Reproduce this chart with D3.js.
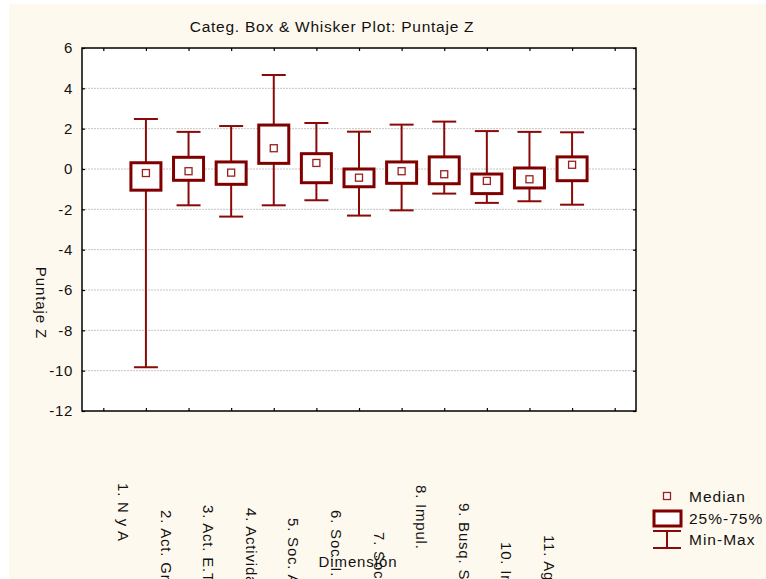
<!DOCTYPE html>
<html>
<head>
<meta charset="utf-8">
<script src="https://cdn.jsdelivr.net/npm/d3@7"></script>
<style>
  html, body { margin: 0; padding: 0; background: #ffffff; }
  svg { display: block; font-family: "Liberation Sans", Arial, sans-serif; }
</style>
</head>
<body>
<svg id="chart" width="766" height="579"></svg>
<script>
// Categories and five-number summaries per dimension
const categories = ["1. N y A", "2. Act. Gral.", "3. Act. E.T.", "4. Actividad", "5. Soc. A.",
  "6. Soc. I.", "7. Sociabilidad", "8. Impul.", "9. Busq. S.", "10. ImpBS", "11. Agres."];
const maxValues    = [2.48, 1.84, 2.13, 4.66, 2.28, 1.85, 2.20, 2.35, 1.88, 1.84, 1.82];
const q3Values     = [0.31, 0.58, 0.35, 2.18, 0.76, 0.00, 0.35, 0.60, -0.25, 0.05, 0.60];
const medianValues = [-0.20, -0.11, -0.18, 1.03, 0.30, -0.43, -0.11, -0.26, -0.59, -0.51, 0.21];
const q1Values     = [-1.05, -0.56, -0.76, 0.28, -0.68, -0.88, -0.71, -0.73, -1.22, -0.94, -0.58];
const minValues    = [-9.83, -1.80, -2.36, -1.80, -1.55, -2.31, -2.05, -1.22, -1.68, -1.60, -1.77];
const yTickValues  = [6, 4, 2, 0, -2, -4, -6, -8, -10, -12];
const legendLabels = ["Median", "25%-75%", "Min-Max"];
const titleText = "Categ. Box & Whisker Plot: Puntaje Z";
const yTitleText = "Puntaje Z";
const xTitleText = "Dimensión";

const W = 766, H = 579;
const plot = { left: 82, right: 636, top: 48, bottom: 411 };
const RED = "#800000";
const WHISKER = "#8a0a0a";
const MEDIAN = "#9a1f1f";
const CREAM = "#FEF9EE";

const rows = categories.map((c, i) => ({
  cat: c, max: maxValues[i], q3: q3Values[i], med: medianValues[i], q1: q1Values[i], min: minValues[i]
}));

const svg = d3.select("#chart");

// page and plot backgrounds
svg.append("rect").attr("x", 9).attr("y", 4).attr("width", W - 9).attr("height", H - 4).attr("fill", CREAM);
svg.append("rect").attr("x", plot.left).attr("y", plot.top)
  .attr("width", plot.right - plot.left).attr("height", plot.bottom - plot.top).attr("fill", "#ffffff");

// one empty slot on each side of the categories
const slots = ["__lo", ...categories, "__hi"];
const x = d3.scalePoint().domain(slots).range([plot.left, plot.right]).padding(0.5);
const y = d3.scaleLinear().domain([-12, 6]).range([plot.bottom, plot.top]);

// dashed horizontal grid
svg.append("g").selectAll("line")
  .data(yTickValues.filter(v => v !== 6 && v !== -12))
  .join("line")
  .attr("x1", plot.left).attr("x2", plot.right)
  .attr("y1", d => y(d)).attr("y2", d => y(d))
  .attr("stroke", "#c4c4c4").attr("stroke-width", 1).attr("stroke-dasharray", "2,1");

// axes with inward ticks
const tickStyle = g => {
  g.select(".domain").remove();
  g.selectAll(".tick line").attr("stroke", "#000").attr("stroke-width", 1.2);
};
svg.append("g").attr("transform", `translate(${plot.left},0)`)
  .call(d3.axisLeft(y).tickValues(yTickValues).tickSize(-3).tickPadding(9).tickFormat(d => String(d)))
  .call(tickStyle)
  .call(g => g.selectAll("text").attr("font-size", 15).attr("letter-spacing", 0.7)
    .attr("fill", "#111").attr("font-family", "'Liberation Sans', Arial, sans-serif"));
svg.append("g").attr("transform", `translate(${plot.right},0)`)
  .call(d3.axisRight(y).tickValues(yTickValues).tickSize(-3).tickFormat(""))
  .call(tickStyle);
svg.append("g").attr("transform", `translate(0,${plot.bottom})`)
  .call(d3.axisBottom(x).tickSize(-3).tickFormat(""))
  .call(tickStyle);
svg.append("g").attr("transform", `translate(0,${plot.top})`)
  .call(d3.axisTop(x).tickSize(-3).tickFormat(""))
  .call(tickStyle);

// frame
svg.append("rect").attr("x", plot.left).attr("y", plot.top)
  .attr("width", plot.right - plot.left).attr("height", plot.bottom - plot.top)
  .attr("fill", "none").attr("stroke", "#000").attr("stroke-width", 1.5);

// boxes and whiskers
const boxHalf = 15, capHalf = 12, medHalf = 3.5;
const g = svg.append("g").selectAll("g").data(rows).join("g")
  .attr("transform", d => `translate(${x(d.cat)},0)`);
g.append("line").attr("x1", 0).attr("x2", 0)
  .attr("y1", d => y(d.max)).attr("y2", d => y(d.min))
  .attr("stroke", WHISKER).attr("stroke-width", 2);
g.append("line").attr("x1", -capHalf).attr("x2", capHalf)
  .attr("y1", d => y(d.max)).attr("y2", d => y(d.max))
  .attr("stroke", WHISKER).attr("stroke-width", 2);
g.append("line").attr("x1", -capHalf).attr("x2", capHalf)
  .attr("y1", d => y(d.min)).attr("y2", d => y(d.min))
  .attr("stroke", WHISKER).attr("stroke-width", 2);
g.append("rect").attr("x", -boxHalf).attr("width", boxHalf * 2)
  .attr("y", d => y(d.q3)).attr("height", d => y(d.q1) - y(d.q3))
  .attr("fill", "#ffffff").attr("stroke", RED).attr("stroke-width", 3);
g.append("rect").attr("x", -medHalf).attr("width", medHalf * 2)
  .attr("y", d => y(d.med) - medHalf).attr("height", medHalf * 2)
  .attr("fill", "#ffffff").attr("stroke", MEDIAN).attr("stroke-width", 1.3);

// title
svg.append("text").attr("x", 332).attr("y", 32).attr("text-anchor", "middle")
  .attr("font-size", 15.5).attr("letter-spacing", 0.75).attr("fill", "#111").text(titleText);

// y axis title, reading downward
svg.append("text").attr("transform", "translate(36,303) rotate(90)")
  .attr("text-anchor", "middle").attr("font-size", 15).attr("letter-spacing", 0.9)
  .attr("fill", "#111").text(yTitleText);

// x axis title
svg.append("text").attr("x", 358).attr("y", 567).attr("text-anchor", "middle")
  .attr("font-size", 15).attr("letter-spacing", 0.9).attr("fill", "#111").text(xTitleText);

// rotated category labels; each starts at its own depth below the plot
const labelTop = [483, 510, 505, 508, 518, 510, 532, 485, 503, 542, 535];
svg.append("g").selectAll("text").data(rows).join("text")
  .attr("transform", (d, i) => `translate(${x(d.cat) - 28},${labelTop[i]}) rotate(90)`)
  .attr("text-anchor", "start").attr("font-size", 15).attr("letter-spacing", 0.8)
  .attr("fill", "#111").text(d => d.cat);

// legend
const lg = svg.append("g");
lg.append("rect").attr("x", 663.5).attr("y", 492.5).attr("width", 7).attr("height", 7)
  .attr("fill", "#ffffff").attr("stroke", MEDIAN).attr("stroke-width", 1.3);
lg.append("rect").attr("x", 654).attr("y", 511).attr("width", 27).attr("height", 15)
  .attr("fill", "#ffffff").attr("stroke", RED).attr("stroke-width", 3);
lg.append("line").attr("x1", 653).attr("x2", 681).attr("y1", 531).attr("y2", 531)
  .attr("stroke", WHISKER).attr("stroke-width", 2);
lg.append("line").attr("x1", 667).attr("x2", 667).attr("y1", 531).attr("y2", 548)
  .attr("stroke", WHISKER).attr("stroke-width", 2);
lg.append("line").attr("x1", 653).attr("x2", 681).attr("y1", 548).attr("y2", 548)
  .attr("stroke", WHISKER).attr("stroke-width", 2);
lg.selectAll("text").data(legendLabels).join("text")
  .attr("x", 689).attr("y", (d, i) => [502, 524, 545][i])
  .attr("font-size", 15.5).attr("letter-spacing", 1).attr("fill", "#111").text(d => d);
</script>
</body>
</html>
